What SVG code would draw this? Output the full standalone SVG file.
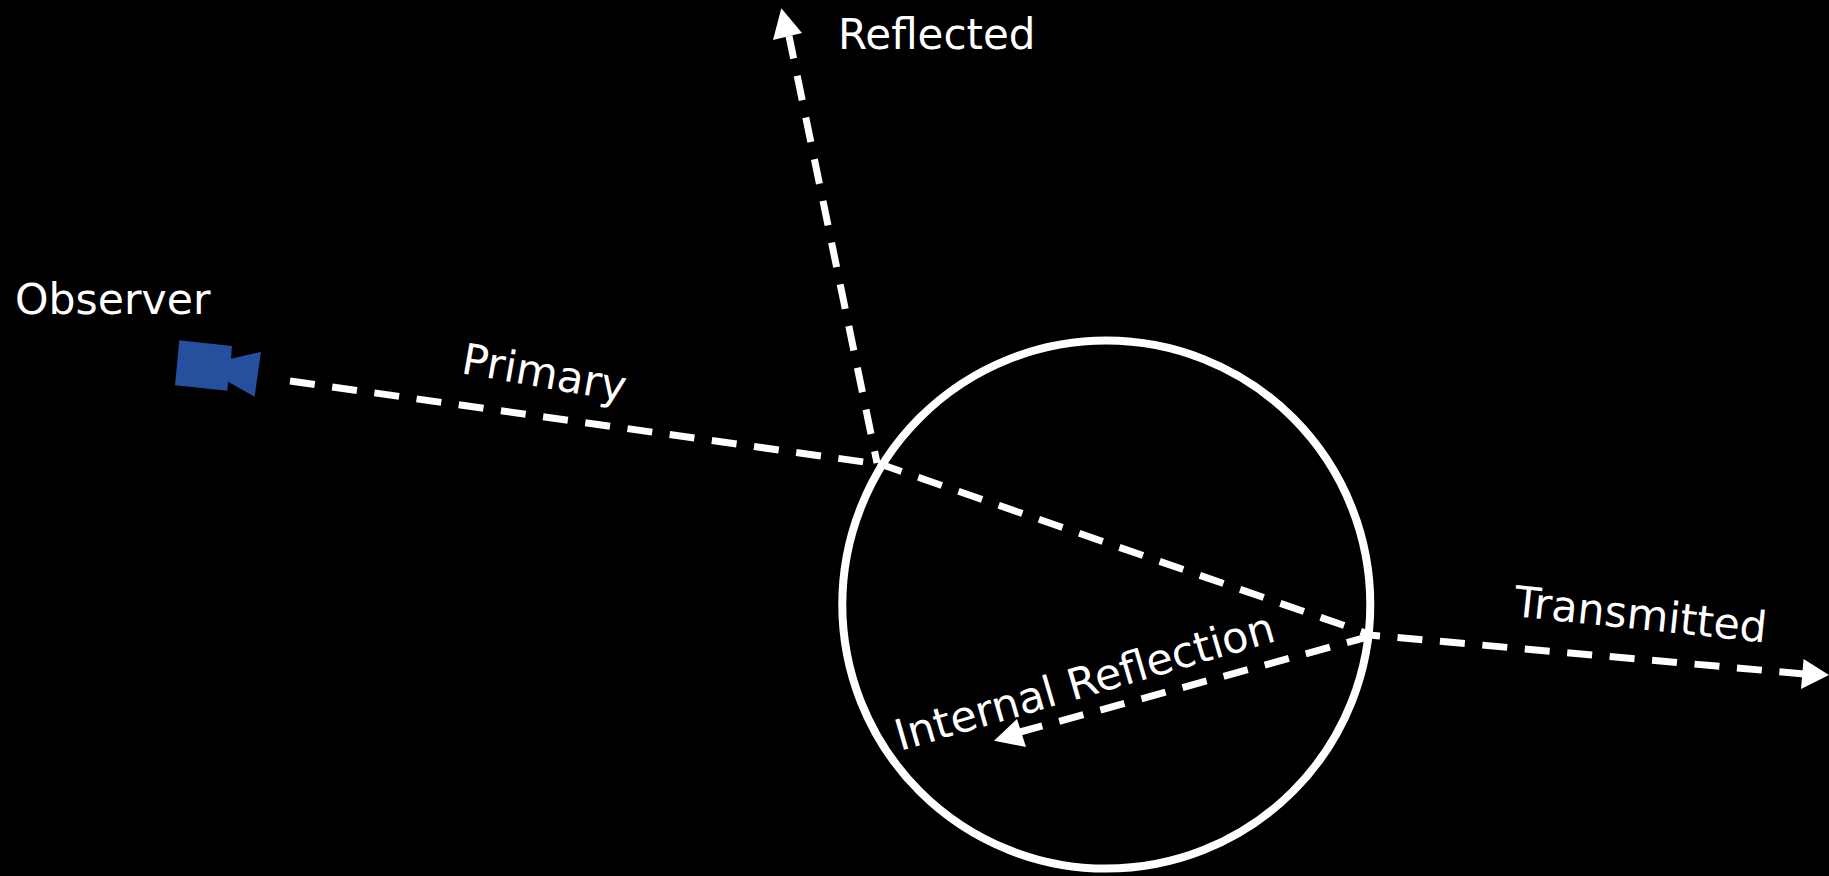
<svg xmlns="http://www.w3.org/2000/svg" width="1829" height="876" viewBox="0 0 1829 876">
<style>
text{font-family:"DejaVu Sans",sans-serif;font-size:42.6px;fill:#fff}
.d{fill:none;stroke:#fff;stroke-width:7;stroke-dasharray:25 17.6}
.h{fill:#fff}
</style>
<rect width="1829" height="876" fill="#000"/>
<g id="sphere"><circle cx="1106.3" cy="604.6" r="264" fill="none" stroke="#fff" stroke-width="8"/></g>
<g id="observer">
<polygon points="179.3,340.3 231.9,346 231,358.7 261,352 254.6,396.7 228,381.7 227.3,390.7 175,385.3" fill="#264f9e"/>
<text x="15" y="314">Observer</text>
</g>
<g id="connectors">
<line class="d" x1="290" y1="381" x2="878" y2="464"/>
<line class="d" x1="878" y1="463.3" x2="1367" y2="633.5"/>
<line class="d" stroke-dashoffset="13" x1="877" y1="463" x2="789" y2="36"/>
<polygon class="h" points="781.3,8.3 802,33 773,40"/>
<line class="d" stroke-dashoffset="14" x1="1369" y1="635" x2="1805" y2="674"/>
<polygon class="h" points="1829,675 1801,689 1803.6,659"/>
<line class="d" x1="1371" y1="636" x2="1020" y2="732"/>
<polygon class="h" points="994,740.7 1017,719 1026,747"/>
</g>
<g id="labels">
<text x="838" y="49" style="font-size:42px">Reflected</text>
<text transform="translate(460,373) rotate(10)" style="font-size:43px">Primary</text>
<text transform="translate(1513,616) rotate(6)" style="font-size:42.8px">Transmitted</text>
<text transform="translate(900,751) rotate(-16.3)" style="font-size:43px">Internal Reflection</text>
</g>
</svg>
